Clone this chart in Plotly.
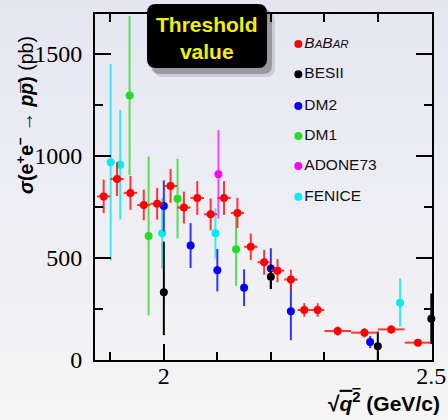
import base64
import plotly.graph_objects as go

# ---------------- data ----------------
babar_x = [1.8875, 1.9125, 1.9375, 1.9625, 1.9875, 2.0125, 2.0375, 2.0625, 2.0875, 2.1125,
           2.1375, 2.1625, 2.1875, 2.2125, 2.2375, 2.2625, 2.2875, 2.325, 2.375, 2.425, 2.475]
babar_y = [802, 887, 819, 760, 766, 853, 747, 794, 714, 794,
           721, 555, 479, 438, 394, 245, 245, 142, 134, 150, 85]
babar_err = [82, 83, 83, 75, 78, 83, 78, 83, 78, 83,
             74, 65, 61, 57, 49, 33, 33, 23, 23, 20, 15]
babar_xerr = [0.0125, 0.0125, 0.0125, 0.0125, 0.0125, 0.0125, 0.0125, 0.0125, 0.0125, 0.0125,
              0.0125, 0.0125, 0.0125, 0.0125, 0.0125, 0.0125, 0.0125, 0.025, 0.025, 0.025, 0.025]

besii_x = [2.0, 2.2, 2.4, 2.5]
besii_y = [332, 408, 67, 202]
besii_err_up = [248, 60, 72, 124]
besii_err_dn = [210, 60, 67, 124]

dm2_x = [2.0, 2.05, 2.1, 2.15, 2.2, 2.2375, 2.3856]
dm2_y = [755, 561, 440, 354, 448, 239, 88]
dm2_err = [125, 110, 104, 90, 100, 142, 30]

dm1_x = [1.936, 1.9715, 2.0256, 2.135]
dm1_y = [1296, 608, 791, 543]
dm1_err = [390, 390, 195, 180]

adone_x = [2.102]
adone_y = [910]
adone_err = [217]

fenice_x = [1.9006, 1.9185, 1.9968, 2.0965, 2.4416]
fenice_y = [969, 957, 621, 621, 281]
fenice_err = [482, 268, 172, 123, 118]

legend_labels = ["<i>B<span style='font-size:11.5px'>A</span>B<span style='font-size:11.5px'>AR</span></i>",
                 "BESII", "DM2", "DM1", "ADONE73", "FENICE"]
legend_colors = ["#ff0000", "#000000", "#0000ff", "#22dd22", "#ff00ff", "#00eeee"]
legend_xpos = [0.6033, 0.6033, 0.6033, 0.6033, 0.6033, 0.6033]
legend_ypos = [0.9133, 0.8257, 0.7341, 0.6474, 0.5607, 0.4720]

x_ticks = [2.0, 2.5]
x_ticklabels = ["2", "2.5"]
y_ticks = [0, 500, 1000, 1500]
y_ticklabels = ["0", "500", "1000", "1500"]

# ---------------- geometry helpers (pixels -> paper) ----------------
W, H = 448, 420
L, R, T, B = 95, 16, 14, 60
PW, PH = W - L - R, H - T - B


def px(x):
    return (x - L) / PW


def py(y):
    return (H - B - y) / PH


def rrect(x0, y0, x1, y1, r):
    pts = [
        ("M", [(x0 + r, y0)]), ("L", [(x1 - r, y0)]), ("Q", [(x1, y0), (x1, y0 + r)]),
        ("L", [(x1, y1 - r)]), ("Q", [(x1, y1), (x1 - r, y1)]), ("L", [(x0 + r, y1)]),
        ("Q", [(x0, y1), (x0, y1 - r)]), ("L", [(x0, y0 + r)]), ("Q", [(x0, y0), (x0 + r, y0)]),
    ]
    s = ""
    for c, ps in pts:
        s += c + " " + " ".join(f"{px(a):.5f},{py(b):.5f}" for a, b in ps) + " "
    return s + "Z"


fig = go.Figure()


def add_series(x, y, color, err, errminus=None, xerr=None, errcolor=None, clip=True):
    ey = dict(type="data", array=err, color=errcolor or color, thickness=2, width=0, visible=True)
    if errminus is not None:
        ey["symmetric"] = False
        ey["arrayminus"] = errminus
    tr = dict(x=x, y=y, mode="markers",
              marker=dict(color=color, size=8, line=dict(width=0)),
              error_y=ey, showlegend=False, cliponaxis=clip)
    if xerr is not None:
        tr["error_x"] = dict(type="data", array=xerr, color=errcolor or color, thickness=2, width=0)
    fig.add_trace(go.Scatter(**tr))


add_series(fenice_x, fenice_y, "#00eeee", fenice_err, errcolor="#33eeee")
add_series(adone_x, adone_y, "#ff00ff", adone_err, errcolor="#ff44ff")
add_series(dm1_x, dm1_y, "#22dd22", dm1_err, errcolor="#55e055")
add_series(dm2_x, dm2_y, "#0000ff", dm2_err, errcolor="#3333ff")
add_series(besii_x, besii_y, "#000000", besii_err_up, errminus=besii_err_dn, clip=False)
add_series(babar_x, babar_y, "#ff0000", babar_err, xerr=babar_xerr, errcolor="rgba(255,20,20,0.85)")

# legend drawn on an overlay axis spanning the plot area
fig.add_trace(go.Scatter(
    x=legend_xpos, y=legend_ypos, xaxis="x2", yaxis="y2", mode="markers+text",
    marker=dict(color=legend_colors, size=8),
    text=legend_labels, textposition="middle right",
    textfont=dict(family="Liberation Sans, Arial", size=15.5, color="#111111"),
    showlegend=False, cliponaxis=False, hoverinfo="skip"))

# background gradient
svg = ('<svg xmlns="http://www.w3.org/2000/svg" width="448" height="420">'
       '<defs><linearGradient id="g" x1="0" y1="0" x2="0" y2="1">'
       '<stop offset="0" stop-color="#e6e6f3"/><stop offset="1" stop-color="#f5f5f5"/>'
       '</linearGradient></defs><rect width="448" height="420" fill="url(#g)"/></svg>')
src = "data:image/svg+xml;base64," + base64.b64encode(svg.encode()).decode()

shapes = [
    dict(type="path", xref="paper", yref="paper", path=rrect(154, 12, 275, 77, 9),
         fillcolor="rgba(0,0,0,0.12)", line=dict(width=0), layer="above"),
    dict(type="path", xref="paper", yref="paper", path=rrect(151, 9, 272, 74, 9),
         fillcolor="rgba(0,0,0,0.25)", line=dict(width=0), layer="above"),
    dict(type="path", xref="paper", yref="paper", path=rrect(147, 4, 267, 68, 9),
         fillcolor="#000000", line=dict(width=0), layer="above"),
]

annotations = [
    dict(text="<b>Threshold<br>value</b>", xref="paper", yref="paper", x=px(207), y=py(38),
         xanchor="center", yanchor="middle", showarrow=False,
         font=dict(family="Liberation Sans, Arial", size=21, color="#f2f200")),
    dict(text="<b><i>σ</i>(e<sup>+</sup>e<sup>−</sup> → <i>p</i><i>p̅</i>)</b> (pb)",
         xref="paper", yref="paper", x=px(25), y=py(115), textangle=-90,
         xanchor="center", yanchor="middle", showarrow=False,
         font=dict(family="Liberation Sans, Arial", size=19.5, color="#000000")),
    dict(text="<b>√<span style='text-decoration:overline'><i>q</i><sup>2</sup></span> (GeV/c)</b>",
         xref="paper", yref="paper", x=px(442), y=py(402),
         xanchor="right", yanchor="middle", showarrow=False,
         font=dict(family="Liberation Sans, Arial", size=21, color="#000000")),
]

fig.update_layout(
    width=W, height=H,
    margin=dict(l=L, r=R, t=T, b=B, pad=0, autoexpand=False),
    paper_bgcolor="#eeeef4", plot_bgcolor="rgba(0,0,0,0)",
    images=[dict(source=src, xref="paper", yref="paper", x=px(0), y=py(0),
                 sizex=W / PW, sizey=H / PH, xanchor="left", yanchor="top",
                 sizing="stretch", layer="below")],
    shapes=shapes, annotations=annotations,
    xaxis=dict(range=[1.8713, 2.5013], tickvals=x_ticks, ticktext=x_ticklabels,
               automargin=False, ticklabelstandoff=-7,
               ticks="inside", ticklen=16, tickwidth=1.5, tickcolor="#000",
               minor=dict(dtick=0.1, tick0=1.8, ticks="inside", ticklen=8, tickwidth=1.5, tickcolor="#000", showgrid=False),
               showline=True, linecolor="#000", linewidth=2, mirror="allticks",
               showgrid=False, zeroline=False,
               tickfont=dict(family="Liberation Serif, Times New Roman", size=24, color="#000")),
    yaxis=dict(range=[0, 1696], tickvals=y_ticks, ticktext=y_ticklabels,
               automargin=False,
               ticks="inside", ticklen=16, tickwidth=1.5, tickcolor="#000",
               minor=dict(dtick=250, tick0=0, ticks="inside", ticklen=8, tickwidth=1.5, tickcolor="#000", showgrid=False),
               showline=True, linecolor="#000", linewidth=2, mirror="allticks",
               showgrid=False, zeroline=False, ticklabelstandoff=6,
               tickfont=dict(family="Liberation Serif, Times New Roman", size=24, color="#000")),
    xaxis2=dict(range=[0, 1], overlaying="x", anchor="y2", visible=False, automargin=False),
    yaxis2=dict(range=[0, 1], overlaying="y", anchor="x2", visible=False, automargin=False),
)

fig.write_html("out.html")
